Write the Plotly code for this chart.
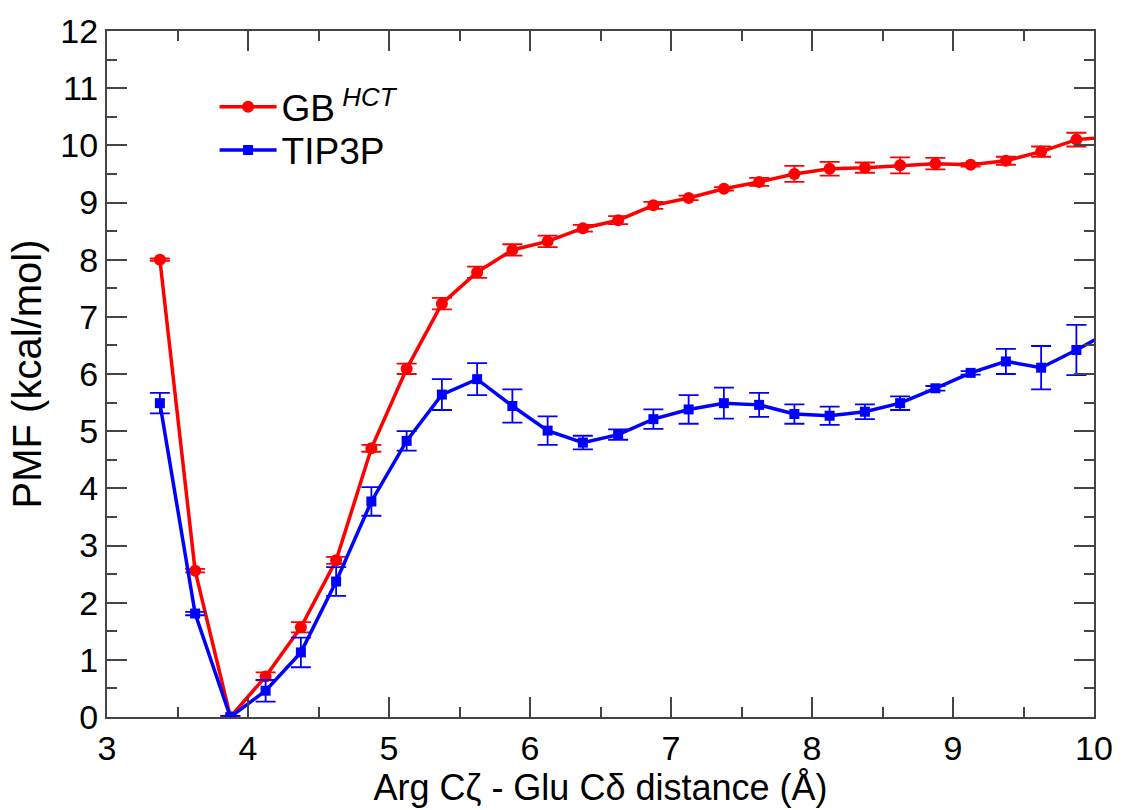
import plotly.graph_objects as go

# Reaction coordinate (Å), bin centres every 0.25 Å
distance = [3.375, 3.625, 3.875, 4.125, 4.375, 4.625, 4.875, 5.125, 5.375, 5.625,
            5.875, 6.125, 6.375, 6.625, 6.875, 7.125, 7.375, 7.625, 7.875, 8.125,
            8.375, 8.625, 8.875, 9.125, 9.375, 9.625, 9.875, 10.125]

# PMF in implicit solvent (GB-HCT), kcal/mol
pmf_gb = [8.00, 2.56, 0.00, 0.71, 1.57, 2.74, 4.70, 6.09, 7.23, 7.78,
          8.17, 8.32, 8.55, 8.69, 8.95, 9.08, 9.24, 9.36, 9.50, 9.59,
          9.61, 9.65, 9.68, 9.66, 9.73, 9.89, 10.10, 10.15]
err_gb = [0.02, 0.03, 0.02, 0.07, 0.09, 0.06, 0.06, 0.09, 0.10, 0.10,
          0.10, 0.10, 0.06, 0.07, 0.06, 0.04, 0.03, 0.07, 0.14, 0.12,
          0.09, 0.14, 0.10, 0.03, 0.07, 0.09, 0.12, 0.10]

# PMF in explicit water (TIP3P), kcal/mol
pmf_tip3p = [5.49, 1.81, 0.00, 0.46, 1.13, 2.37, 3.77, 4.83, 5.64, 5.91,
             5.44, 5.01, 4.80, 4.94, 5.21, 5.38, 5.49, 5.46, 5.30, 5.27,
             5.34, 5.49, 5.75, 6.02, 6.22, 6.11, 6.42, 6.76]
err_tip3p = [0.18, 0.03, 0.02, 0.19, 0.26, 0.25, 0.25, 0.17, 0.27, 0.28,
             0.29, 0.25, 0.12, 0.09, 0.17, 0.25, 0.27, 0.21, 0.17, 0.16,
             0.13, 0.12, 0.04, 0.03, 0.22, 0.38, 0.44, 0.30]

x_ticks = [3, 4, 5, 6, 7, 8, 9, 10]
y_ticks = list(range(0, 13))

FONT = "Liberation Sans, Arial, Helvetica, sans-serif"
AXIS_COLOR = "#444444"

fig = go.Figure()

fig.add_trace(go.Scatter(
    x=distance, y=pmf_gb, mode="lines+markers",
    name="GB<sup> <i>HCT</i></sup>", legend="legend",
    line=dict(color="#ff0000", width=3.5),
    marker=dict(color="#ff0000", size=12, symbol="circle"),
    error_y=dict(type="data", array=err_gb, visible=True,
                 color="#ff0000", thickness=1.8, width=10),
))

fig.add_trace(go.Scatter(
    x=distance, y=pmf_tip3p, mode="lines+markers",
    name="TIP3P", legend="legend2",
    line=dict(color="#0000ff", width=3.5),
    marker=dict(color="#0000ff", size=10, symbol="square"),
    error_y=dict(type="data", array=err_tip3p, visible=True,
                 color="#0000ff", thickness=1.8, width=10),
))

axis_common = dict(
    showline=True, linecolor=AXIS_COLOR, linewidth=2, mirror="ticks",
    ticks="inside", ticklen=20, tickwidth=2, tickcolor=AXIS_COLOR,
    showgrid=False, zeroline=False,
    tickfont=dict(family=FONT, size=34, color="black"),
)

fig.update_xaxes(
    range=[3, 10], tickvals=x_ticks, ticktext=[str(v) for v in x_ticks],
    minor=dict(dtick=0.5, ticks="inside", ticklen=10, tickwidth=2,
               tickcolor=AXIS_COLOR, showgrid=False),
    title=dict(text="Arg Cζ - Glu Cδ distance (Å)",
               font=dict(family=FONT, size=36, color="black"), standoff=6),
    **axis_common,
)

fig.update_yaxes(
    range=[0, 12], tickvals=y_ticks, ticktext=[str(v) for v in y_ticks],
    minor=dict(dtick=0.5, ticks="inside", ticklen=10, tickwidth=2,
               tickcolor=AXIS_COLOR, showgrid=False),
    title=dict(text="PMF (kcal/mol)",
               font=dict(family=FONT, size=40, color="black"), standoff=6),
    **axis_common,
)

legend_style = dict(
    xanchor="left", yanchor="middle",
    bgcolor="rgba(0,0,0,0)", borderwidth=0,
    font=dict(family=FONT, size=37, color="black"),
    itemwidth=57,
)

fig.update_layout(
    width=1125, height=810,
    margin=dict(l=107, r=26, t=28, b=91),
    paper_bgcolor="white", plot_bgcolor="white",
    showlegend=True,
    legend=dict(x=0.109, y=0.889, **legend_style),
    legend2=dict(x=0.109, y=0.826, **legend_style),
)

fig.write_html("out.html")
